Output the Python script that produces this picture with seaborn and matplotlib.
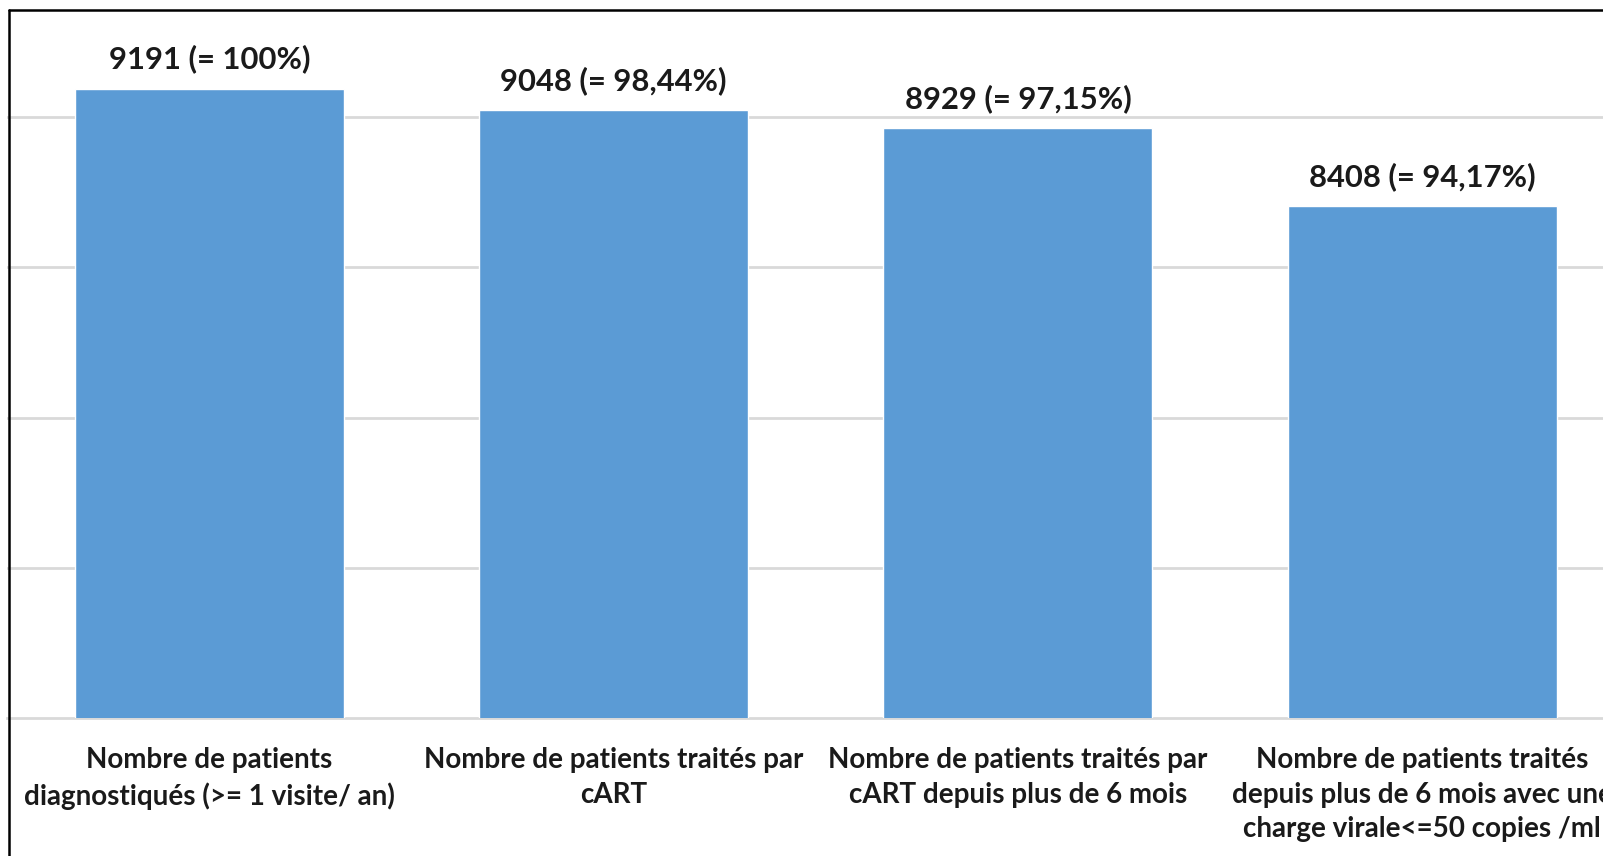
import matplotlib
matplotlib.use("Agg")
import matplotlib.pyplot as plt
from matplotlib.lines import Line2D
import pandas as pd
import seaborn as sns

# Cascade de prise en charge
categories = [
    "Nombre de patients\ndiagnostiqués (>= 1 visite/ an)",
    "Nombre de patients traités par\ncART",
    "Nombre de patients traités par\ncART depuis plus de 6 mois",
    "Nombre de patients traités\ndepuis plus de 6 mois avec une\ncharge virale<=50 copies /ml",
]
patients = [9191, 9048, 8929, 8408]
bar_labels = ["9191 (= 100%)", "9048 (= 98,44%)", "8929 (= 97,15%)", "8408 (= 94,17%)"]

df = pd.DataFrame({"etape": categories, "patients": patients})

sns.set_theme(style="white")
plt.rcParams["font.family"] = ["Lato", "DejaVu Sans"]

W, H = 1603, 856
fig = plt.figure(figsize=(W / 100, H / 100), dpi=100)
# plot area: left edge at x=7.4px, bottom at y=718px, top at y=10px
ax = fig.add_axes([7.4 / W, (H - 718) / H, 1616.8 / W, 708 / H])

sns.barplot(data=df, x="etape", y="patients", color="#5B9BD5", saturation=1,
            width=0.666, ax=ax, zorder=3)

ax.set_ylim(5000, 5000 + 708 / 150.2 * 1000)
ax.set_xlim(-0.5, 3.5)
ax.set_yticks([6000, 7000, 8000, 9000])
ax.yaxis.grid(True, color="#D9D9D9", lw=2)
ax.set_axisbelow(True)
ax.tick_params(axis="y", left=False, labelleft=False)
ax.tick_params(axis="x", length=0, pad=21)
ax.set_xlabel("")
ax.set_ylabel("")
for lab in ax.get_xticklabels():
    lab.set_fontsize(20)
    lab.set_fontweight("bold")
    lab.set_color("#1a1a1a")
    lab.set_linespacing(1.4)

for s in ["left", "right", "top"]:
    ax.spines[s].set_visible(False)
ax.spines["bottom"].set_color("#D9D9D9")
ax.spines["bottom"].set_linewidth(2)

for i, (v, txt) in enumerate(zip(patients, bar_labels)):
    ax.annotate(txt, (i, v), xytext=(0, 14.4), textcoords="offset points",
                ha="center", va="baseline", fontsize=22.3, fontweight="bold",
                color="#1a1a1a")

# chart border (left and top edges visible)
fig.add_artist(Line2D([8.5 / W, 8.5 / W], [0, 1 - 10 / H], color="black", lw=1.8))
fig.add_artist(Line2D([8.5 / W, 1], [1 - 10 / H, 1 - 10 / H], color="black", lw=1.8))

fig.savefig("out.png", dpi=100)
